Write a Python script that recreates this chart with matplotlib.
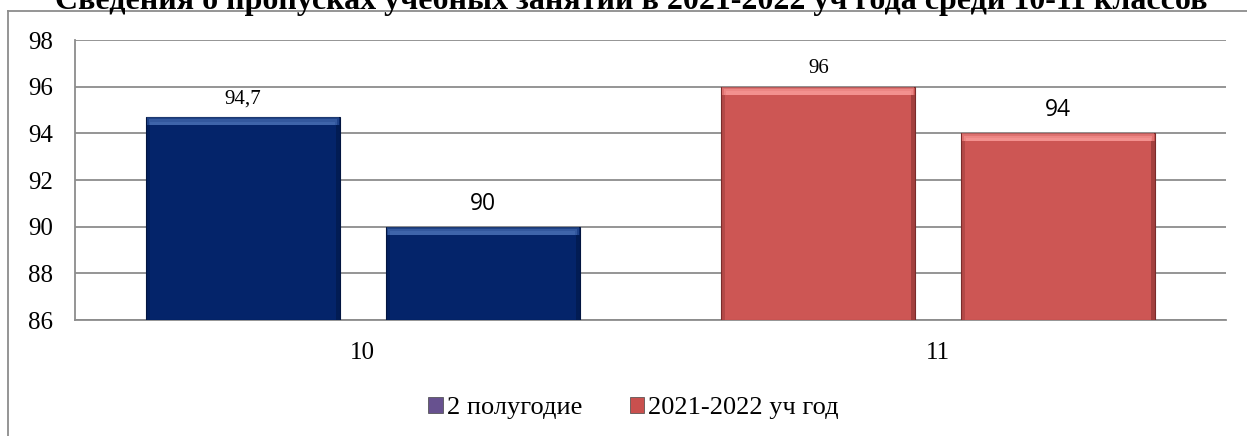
import matplotlib.pyplot as plt
import matplotlib.patches as mpatches
from matplotlib.lines import Line2D

# data
CLASSES = ["10", "11"]
FIRST_VALUES = [94.7, 96]        # first bar of each class
SECOND_VALUES = [90, 94]         # second bar of each class
FIRST_LABELS = ["94,7", "96"]
SECOND_LABELS = ["90", "94"]
SERIES_NAMES = ["2 полугодие", "2021-2022 уч год"]
Y_TICKS = [86, 88, 90, 92, 94, 96, 98]
TITLE = "Сведения о пропусках учебных занятий в 2021-2022 уч года среди 10-11 классов"

CLASS_COLORS = {
    "10": ("#04246A", "#4168AE", "#021540"),
    "11": ("#CD5654", "#F59593", "#7A2B2A"),
}
LEGEND_COLORS = ["#67518F", "#C9504E"]
GRID = "#8C8C8C"
SERIF = "Liberation Serif"

W_PX, H_PX = 1247, 436
BAR_W = 0.337
OFFSET = 0.2085


def bevel_bar(ax, x, value, colors):
    """ Draw one bar with a light top bevel and darker sides. """
    base, light, dark = colors
    bottom = Y_TICKS[0]
    ax.bar(x, value - bottom, bottom=bottom, width=BAR_W, color=base,
           edgecolor=dark, linewidth=0.8, zorder=3)
    bev = 0.34
    for frac, alpha in ((1.0, 0.45), (0.7, 0.6), (0.4, 0.8)):
        ax.bar(x, bev * frac, bottom=value - bev, width=BAR_W * (0.99 - 0.06 * (1 - frac)),
               color=light, alpha=alpha, linewidth=0, zorder=4)
    side = BAR_W * 0.02
    ax.bar(x + BAR_W / 2 - side / 2, value - bottom - bev, bottom=bottom,
           width=side, color=dark, alpha=0.5, linewidth=0, zorder=4)
    ax.bar(x - BAR_W / 2 + side / 2, value - bottom - bev, bottom=bottom,
           width=side, color=dark, alpha=0.3, linewidth=0, zorder=4)


def plot_chart():
    fig = plt.figure(figsize=(W_PX / 100, H_PX / 100), dpi=100)
    ax = fig.add_axes([75 / W_PX, 1 - 320 / H_PX,
                       (1226 - 75) / W_PX, (320 - 40) / H_PX])

    for i, cls in enumerate(CLASSES):
        colors = CLASS_COLORS[cls]
        bevel_bar(ax, i - OFFSET, FIRST_VALUES[i], colors)
        bevel_bar(ax, i + OFFSET, SECOND_VALUES[i], colors)
        ax.annotate(FIRST_LABELS[i], xy=(i - OFFSET, FIRST_VALUES[i]),
                    xytext=(0, 18), textcoords="offset pixels",
                    ha="center", va="center", family=SERIF, fontsize=15)
        ax.annotate(SECOND_LABELS[i], xy=(i + OFFSET, SECOND_VALUES[i]),
                    xytext=(0, 23), textcoords="offset pixels",
                    ha="center", va="center", family="Open Sans",
                    fontsize=16.5)

    ax.set_xlim(-0.5, len(CLASSES) - 0.5)
    ax.set_ylim(Y_TICKS[0], Y_TICKS[-1])
    ax.set_yticks(Y_TICKS)
    ax.set_xticks(range(len(CLASSES)))
    ax.set_xticklabels(CLASSES)
    for lab in ax.get_xticklabels() + ax.get_yticklabels():
        lab.set_family(SERIF)
        lab.set_fontsize(18)
    ax.tick_params(axis="both", length=0)
    ax.tick_params(axis="y", pad=16)
    ax.tick_params(axis="x", pad=16)
    ax.yaxis.grid(True, color=GRID, linewidth=1.3, zorder=0)
    ax.set_axisbelow(True)
    for name in ("top", "right"):
        ax.spines[name].set_visible(False)
    for name in ("left", "bottom"):
        ax.spines[name].set_color(GRID)
        ax.spines[name].set_linewidth(1.3)

    handles = [mpatches.Patch(facecolor=c, edgecolor="#444444", linewidth=0.5,
                              label=n)
               for c, n in zip(LEGEND_COLORS, SERIES_NAMES)]
    fig.legend(handles=handles, loc="center", ncol=2,
               bbox_to_anchor=(0.508, 1 - 408 / H_PX), frameon=False,
               prop={"family": SERIF, "size": 19}, handlelength=0.55,
               handleheight=0.55, handletextpad=0.15, columnspacing=1.8)

    # outer chart frame (top and left edges visible)
    fx, fy = 8 / W_PX, 1 - 11 / H_PX
    fig.add_artist(Line2D([fx, fx], [0, fy], color=GRID, linewidth=1.3))
    fig.add_artist(Line2D([fx, 1], [fy, fy], color=GRID, linewidth=1.3))

    fig.text(0.5065, 1 - 9 / H_PX, TITLE, ha="center", va="baseline",
             family=SERIF, fontweight="bold", fontsize=23)
    return fig


fig = plot_chart()
fig.savefig("out.png", dpi=100)
